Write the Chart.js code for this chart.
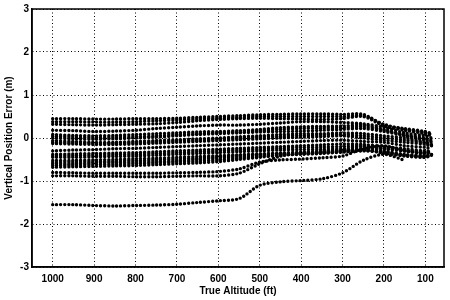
<!DOCTYPE html>
<html>
<head>
<meta charset="utf-8">
<script src="https://cdn.jsdelivr.net/npm/chart.js@4.4.0/dist/chart.umd.min.js"></script>
<style>
  html, body { margin: 0; padding: 0; background: #fff; }
  #wrap { width: 450px; height: 300px; }
</style>
</head>
<body>
<div id="wrap"><canvas id="errChart"></canvas></div>
<script>
// --- Data ---
const ALT = [1000, 950, 900, 850, 800, 750, 700, 650, 600, 550, 500, 450, 400, 350, 300, 250, 200, 150, 100, 85];
const X_TICKS = [1000, 900, 800, 700, 600, 500, 400, 300, 200, 100];
const Y_TICKS = [-3, -2, -1, 0, 1, 2, 3];

// one array per recorded approach, vertical error (m) at each ALT
const run1  = [0.45, 0.45, 0.44, 0.44, 0.45, 0.45, 0.46, 0.48, 0.50, 0.52, 0.54, 0.55, 0.56, 0.56, 0.55, 0.55, 0.30, 0.22, 0.15, 0.10];
const run1b = [0.38, 0.38, 0.37, 0.37, 0.38, 0.40, 0.42, 0.44, 0.46, 0.48, 0.50, 0.50, 0.50, 0.50, 0.50, 0.52, 0.32, 0.20, 0.12, 0.08];
const run2  = [0.32, 0.31, 0.30, 0.31, 0.32, 0.33, 0.36, 0.40, 0.43, 0.45, 0.46, 0.45, 0.44, 0.43, 0.45, 0.50, 0.28, 0.18, 0.10, 0.05];
const run3  = [0.18, 0.17, 0.15, 0.16, 0.18, 0.22, 0.25, 0.28, 0.30, 0.30, 0.32, 0.35, 0.38, 0.38, 0.36, 0.33, 0.25, 0.12, 0.05, 0.00];
const run4  = [0.08, 0.06, 0.05, 0.06, 0.08, 0.10, 0.12, 0.14, 0.15, 0.17, 0.20, 0.24, 0.26, 0.27, 0.28, 0.30, 0.20, 0.08, 0.00, -0.05];
const run4b = [0.04, 0.02, 0.01, 0.02, 0.03, 0.05, 0.08, 0.10, 0.12, 0.14, 0.17, 0.20, 0.22, 0.23, 0.24, 0.26, 0.18, 0.06, -0.02, -0.08];
const run5  = [0.00, -0.02, -0.03, -0.02, 0.00, 0.02, 0.05, 0.08, 0.10, 0.12, 0.14, 0.15, 0.16, 0.18, 0.20, 0.22, 0.15, 0.05, -0.05, -0.10];
const run6  = [-0.06, -0.08, -0.10, -0.10, -0.08, -0.06, -0.04, -0.02, 0.00, 0.03, 0.05, 0.08, 0.10, 0.10, 0.12, 0.10, 0.05, 0.00, -0.10, -0.15];
const run6b = [-0.10, -0.11, -0.12, -0.12, -0.11, -0.09, -0.07, -0.05, -0.03, 0.00, 0.02, 0.04, 0.06, 0.07, 0.08, 0.05, 0.00, -0.05, -0.12, -0.18];
const run7  = [-0.13, -0.14, -0.15, -0.15, -0.14, -0.12, -0.10, -0.08, -0.06, -0.04, -0.02, 0.00, 0.02, 0.03, 0.05, 0.00, -0.05, -0.10, -0.15, -0.20];
const run8  = [-0.30, -0.28, -0.27, -0.25, -0.24, -0.22, -0.20, -0.18, -0.16, -0.14, -0.12, -0.10, -0.08, -0.06, -0.05, -0.08, -0.10, -0.18, -0.22, -0.25];
const run9  = [-0.38, -0.37, -0.36, -0.35, -0.34, -0.32, -0.30, -0.28, -0.26, -0.24, -0.22, -0.20, -0.18, -0.16, -0.14, -0.15, -0.20, -0.25, -0.30, -0.30];
const run9b = [-0.42, -0.41, -0.40, -0.39, -0.38, -0.36, -0.34, -0.32, -0.30, -0.28, -0.26, -0.24, -0.22, -0.21, -0.20, -0.18, -0.22, -0.28, -0.32, -0.32];
const run10 = [-0.45, -0.45, -0.44, -0.43, -0.42, -0.40, -0.38, -0.36, -0.34, -0.32, -0.30, -0.28, -0.27, -0.26, -0.25, -0.20, -0.25, -0.30, -0.35, -0.35];
const run11 = [-0.52, -0.52, -0.51, -0.50, -0.48, -0.47, -0.45, -0.43, -0.41, -0.39, -0.37, -0.35, -0.33, -0.30, -0.28, -0.25, -0.30, -0.38, -0.40, -0.38];
const run11b = [-0.56, -0.56, -0.55, -0.54, -0.52, -0.51, -0.49, -0.47, -0.44, -0.41, -0.38, -0.36, -0.34, -0.32, -0.29, -0.27, -0.33, -0.40, -0.43, -0.40];
const run12 = [-0.60, -0.60, -0.58, -0.57, -0.56, -0.55, -0.53, -0.50, -0.47, -0.44, -0.40, -0.37, -0.35, -0.33, -0.30, -0.28, -0.35, -0.42, -0.45, -0.40];
const run12b = [-0.64, -0.63, -0.62, -0.61, -0.60, -0.58, -0.56, -0.54, -0.51, -0.47, -0.43, -0.39, -0.37, -0.35, -0.32, -0.29, -0.34, -0.41, -0.44, -0.39];
const run13 = [-0.68, -0.67, -0.66, -0.65, -0.64, -0.62, -0.60, -0.58, -0.55, -0.50, -0.45, -0.40, -0.38, -0.36, -0.33, -0.30, -0.32, -0.40, -0.42, -0.38];
const run14 = [-0.88, -0.88, -0.89, -0.89, -0.90, -0.90, -0.89, -0.88, -0.88, -0.82, -0.60, -0.42, -0.36, -0.34, -0.30, -0.26, -0.25, -0.30, -0.35, -0.30];
const run15 = [-0.80, -0.81, -0.82, -0.82, -0.82, -0.82, -0.81, -0.80, -0.78, -0.72, -0.56, -0.51, -0.49, -0.46, -0.42, -0.25, -0.18, -0.30, -0.35, -0.30];
const run16 = [-1.55, -1.55, -1.57, -1.58, -1.57, -1.56, -1.54, -1.50, -1.46, -1.41, -1.10, -1.02, -0.99, -0.95, -0.81, -0.52, -0.38, -0.52, null, null];

const runs = [run1, run1b, run2, run3, run4, run4b, run5, run6, run6b, run7, run8, run9, run9b,
              run10, run11, run11b, run12, run12b, run13, run14, run15, run16];

// --- Chart ---
const FONT = { family: 'Liberation Sans, Arial, sans-serif', size: 10, weight: 'bold' };

// full box round the plot, like the original figure
const boxPlugin = {
    id: 'box',
    afterDraw(chart) {
        const { ctx, chartArea: a } = chart;
        ctx.save();
        ctx.strokeStyle = '#000';
        ctx.lineWidth = 1.5;
        ctx.strokeRect(a.left, a.top, a.right - a.left, a.bottom - a.top);
        ctx.restore();
    }
};

const datasets = runs.map((vals, i) => ({
    label: 'run ' + (i + 1),
    data: ALT.map((a, j) => ({ x: a, y: vals[j] })),
    showLine: true,
    borderColor: '#000',
    borderWidth: 3.4,
    borderDash: [0, 4],
    borderCapStyle: 'round',
    tension: 0.3,
    pointRadius: 0,
    spanGaps: false
}));

const ctx = document.getElementById('errChart').getContext('2d');
new Chart(ctx, {
    type: 'scatter',
    data: { datasets },
    options: {
        responsive: true,
        maintainAspectRatio: false,
        animation: false,
        layout: { padding: { left: 0, right: 6, top: 5, bottom: 0 } },
        plugins: {
            legend: { display: false },
            tooltip: { enabled: false }
        },
        scales: {
            x: {
                type: 'linear',
                reverse: true,
                min: 55,
                max: 1050,
                afterBuildTicks: (s) => { s.ticks = X_TICKS.map(v => ({ value: v })); },
                afterFit: (s) => { s.height = 33; },
                grid: { color: '#000', lineWidth: 1, drawTicks: false },
                border: { display: true, color: '#000', width: 1.5, dash: [1, 2.5] },
                ticks: { color: '#000', font: FONT, padding: 6, maxRotation: 0, callback: (v) => String(v) },
                title: {
                    display: true,
                    text: 'True Altitude (ft)',
                    color: '#000',
                    font: FONT,
                    padding: { top: 0, bottom: 3 }
                }
            },
            y: {
                min: -3,
                max: 3,
                afterBuildTicks: (s) => { s.ticks = Y_TICKS.map(v => ({ value: v })); },
                afterFit: (s) => { s.width = 32; },
                grid: { color: '#000', lineWidth: 1, drawTicks: false },
                border: { display: true, color: '#000', width: 1.5, dash: [1, 2.5] },
                ticks: { color: '#000', font: FONT, padding: 3, callback: (v) => String(v) },
                title: {
                    display: true,
                    text: 'Vertical Position Error (m)',
                    color: '#000',
                    font: FONT,
                    padding: { top: 3, bottom: 0 }
                }
            }
        }
    },
    plugins: [boxPlugin]
});
</script>
</body>
</html>
